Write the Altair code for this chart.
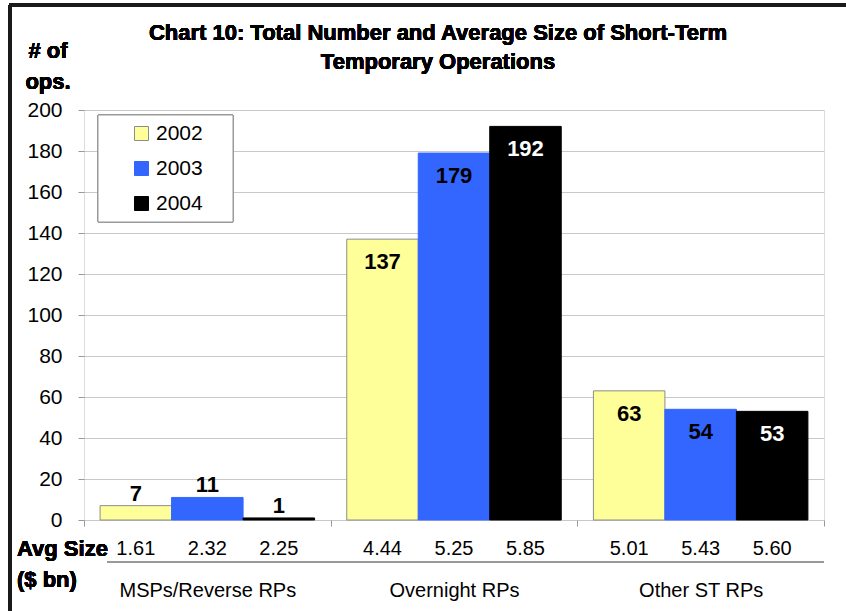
import altair as alt
import pandas as pd

# Short-term temporary operations: number of operations and average size
categories = ["MSPs/Reverse RPs", "Overnight RPs", "Other ST RPs"]
years = ["2002", "2003", "2004"]
ops_2002 = [7, 137, 63]
ops_2003 = [11, 179, 54]
ops_2004 = [1, 192, 53]
avg_2002 = ["1.61", "4.44", "5.01"]
avg_2003 = ["2.32", "5.25", "5.43"]
avg_2004 = ["2.25", "5.85", "5.60"]

ops = {"2002": ops_2002, "2003": ops_2003, "2004": ops_2004}
avg = {"2002": avg_2002, "2003": avg_2003, "2004": avg_2004}
rows = []
for y in years:
    for i, c in enumerate(categories):
        rows.append({"category": c, "year": y, "ops": ops[y][i], "avg": avg[y][i]})
df = pd.DataFrame(rows)

FONT = "Liberation Sans"
W, H = 740, 410

x_enc = alt.X(
    "category:N",
    sort=categories,
    scale=alt.Scale(paddingInner=0, paddingOuter=0),
    axis=alt.Axis(
        title=None, labelAngle=0, tickBand="extent", tickSize=6, tickColor="#999999",
        domain=False, grid=False, labelFontSize=20, labelFont=FONT, labelColor="black",
        labelPadding=54,
    ),
)
xo_enc = alt.XOffset("year:N", sort=years, scale=alt.Scale(paddingOuter=0.225, paddingInner=0))
y_enc = alt.Y(
    "ops:Q",
    scale=alt.Scale(domain=[0, 200], nice=False),
    axis=alt.Axis(
        title=None, values=list(range(0, 201, 20)), tickSize=6, tickColor="#999999",
        domain=False, gridColor="#c8c8c8", gridWidth=1, labelFontSize=21, labelFont=FONT,
        labelColor="black", labelPadding=16,
    ),
)
fill_scale = alt.Scale(domain=years, range=["#FFFF99", "#3366FF", "#000000"])
stroke_scale = alt.Scale(domain=years, range=["#8c8c8c", "#3366FF", "#000000"])

base = alt.Chart(df).encode(x=x_enc, xOffset=xo_enc)

# white legend box behind the legend entries
legend_box = alt.Chart(df).mark_rect(fill="white", stroke="#999999", strokeWidth=1).encode(
    x=alt.value(14), x2=alt.value(149), y=alt.value(5), y2=alt.value(112)
)

bars = base.mark_bar(strokeWidth=1).encode(
    y=y_enc,
    fill=alt.Fill("year:N", scale=fill_scale, sort=years,
                  legend=alt.Legend(
                      title=None, orient="none", legendX=47, legendY=13,
                      symbolType="square", symbolSize=196, symbolStrokeWidth=1,
                      labelFontSize=21, labelFont=FONT, labelColor="black",
                      labelOffset=4, rowPadding=13, padding=0,
                  )),
    stroke=alt.Stroke("year:N", scale=stroke_scale, sort=years, legend=None),
)

label_color = alt.condition(alt.datum.year == "2004", alt.value("white"), alt.value("black"))

labels_out = base.mark_text(
    font=FONT, fontSize=22, fontWeight="bold", baseline="middle", dy=-12
).encode(y="ops:Q", text="ops:Q", color=alt.value("black")).transform_filter(alt.datum.ops < 30)

labels_in = base.mark_text(
    font=FONT, fontSize=22, fontWeight="bold", baseline="middle", dy=23
).encode(y="ops:Q", text="ops:Q", color=label_color).transform_filter(alt.datum.ops >= 30)

avg_text = base.mark_text(font=FONT, fontSize=20, baseline="middle", color="black").encode(
    y=alt.value(439), text="avg:N"
)

rule_under_avg = alt.Chart(df).mark_rule(color="#999999", strokeWidth=2).encode(
    x=alt.value(23), x2=alt.value(W), y=alt.value(452)
)

# outer frame lines (left and top)
frame_left = alt.Chart(df).mark_rule(color="#1a1a1a", strokeWidth=3).encode(
    x=alt.value(-74), y=alt.value(-105), y2=alt.value(H + 91)
)
frame_top = alt.Chart(df).mark_rule(color="#1a1a1a", strokeWidth=3).encode(
    x=alt.value(-75), x2=alt.value(W + 22), y=alt.value(-105)
)

title = alt.Chart(df).mark_text(
    font=FONT, fontSize=22, fontWeight="bold", align="center", baseline="middle",
    lineBreak="\n", lineHeight=29, color="black",
).encode(
    x=alt.value(354), y=alt.value(-77),
    text=alt.value("Chart 10:  Total Number and Average Size of Short-Term\nTemporary Operations"),
)

y_title = alt.Chart(df).mark_text(
    font=FONT, fontSize=22, fontWeight="bold", align="center", baseline="middle",
    lineBreak="\n", lineHeight=31, color="black",
).encode(x=alt.value(-36), y=alt.value(-59), text=alt.value("# of\nops."))

avg_title = alt.Chart(df).mark_text(
    font=FONT, fontSize=22, fontWeight="bold", align="left", baseline="middle", color="black",
).encode(x=alt.value(-67), y=alt.value(439), text=alt.value("Avg Size"))

unit_title = alt.Chart(df).mark_text(
    font=FONT, fontSize=22, fontWeight="bold", align="left", baseline="middle", color="black",
).encode(x=alt.value(-67), y=alt.value(470), text=alt.value("($ bn)"))

chart = alt.layer(
    legend_box, bars, labels_out, labels_in, avg_text, rule_under_avg,
    frame_left, frame_top, title, y_title, avg_title, unit_title,
).properties(
    width=W, height=H,
    autosize=alt.AutoSizeParams(type="none"),
    padding={"left": 84, "top": 110, "right": 22, "bottom": 91},
).configure_view(stroke="#999999", strokeWidth=1).configure(background="white")

chart.save("out.html", embed_options={"renderer": "svg", "actions": False})
